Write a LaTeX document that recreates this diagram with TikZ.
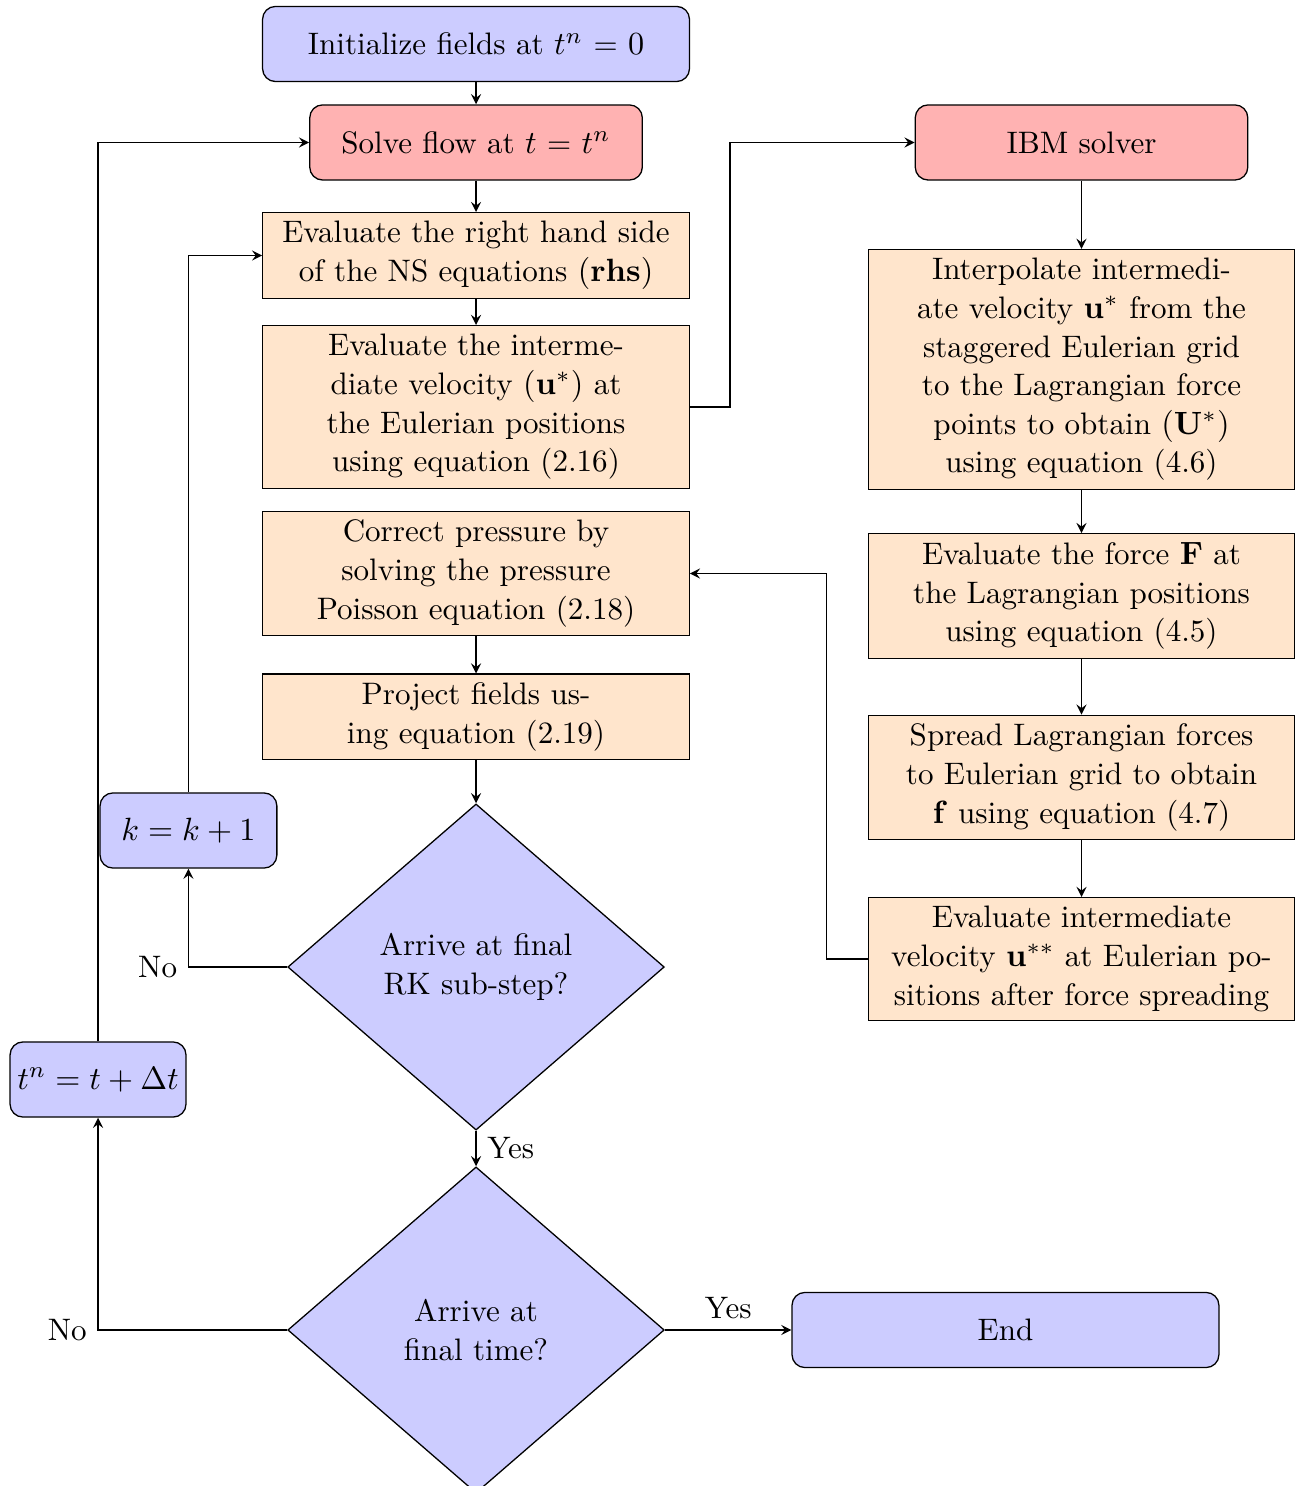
\documentclass[tikz,border=0pt]{standalone}
\usetikzlibrary{shapes.geometric,arrows}

\tikzset{
  startstop/.style={rectangle, rounded corners, minimum height=0.82cm, draw=black, fill=blue!20},
  solver/.style={rectangle, rounded corners, minimum width=3.63cm, minimum height=0.82cm, draw=black, fill=red!30},
  process/.style={rectangle, text width=4.42cm, inner ysep=2.7pt, align=center, draw=black, fill=orange!20},
  decision/.style={diamond, minimum width=4.11cm, minimum height=3.56cm, align=center, draw=black, fill=blue!20},
  arrow/.style={thin,->,>=stealth}
}

\begin{document}
\begin{tikzpicture}[font=\fontsize{9.65pt}{12pt}\selectfont]
      \useasboundingbox (0,0) rectangle (14.2,-16.22);
      % main loop
      \node[startstop, minimum width=4.66cm] (init) at (5.196,-0.480) {Initialize fields at $t^n$ = $0$};
      \node[solver] (solve) at (5.196,-1.555) {Solve flow at $t$ = $t^n$};
      \node[process] (rhs) at (5.196,-2.789) {Evaluate the right hand side\\of the NS equations $(\mathbf{rhs})$};
      \node[process] (ustar) at (5.196,-4.442) {Evaluate the interme-\\diate velocity $(\mathbf{u}^*)$ at\\the Eulerian positions\\using equation (2.16)};
      \node[process] (press) at (5.196,-6.260) {Correct pressure by\\solving the pressure\\Poisson equation (2.18)};
      \node[process] (proj) at (5.196,-7.826) {Project fields us-\\ing equation (2.19)};
      \node[decision] (rkdec) at (5.196,-10.555) {Arrive at final\\RK sub-step?};
      \node[decision] (tdec) at (5.196,-14.517) {Arrive at\\final time?};
      \node[startstop, minimum width=1.93cm] (kinc) at (2.057,-9.065) {$k = k + 1$};
      \node[startstop, minimum width=1.92cm, inner xsep=2pt] (tinc) at (1.070,-11.783) {$t^n = t + \Delta t$};
      \node[startstop, minimum width=4.66cm] (finish) at (10.975,-14.517) {End};
      % IBM part
      \node[solver] (ibm) at (11.805,-1.555) {IBM solver};
      \node[process] (interp) at (11.805,-4.033) {Interpolate intermedi-\\ate velocity $\mathbf{u}^*$ from the\\staggered Eulerian grid\\to the Lagrangian force\\points to obtain $(\mathbf{U}^*)$\\using equation (4.6)};
      \node[process] (force) at (11.805,-6.505) {Evaluate the force $\mathbf{F}$ at\\the Lagrangian positions\\using equation (4.5)};
      \node[process] (spread) at (11.805,-8.486) {Spread Lagrangian forces\\to Eulerian grid to obtain\\$\mathbf{f}$ using equation (4.7)};
      \node[process] (ustarstar) at (11.805,-10.467) {Evaluate intermediate\\velocity $\mathbf{u}^{**}$ at Eulerian po-\\sitions after force spreading};

      \begin{scope}[arrow]
        \draw (init) -- (solve);
        \draw (solve) -- (rhs);
        \draw (rhs) -- (ustar);
        \draw (ustar.east) -- ++(0.437,0) |- (ibm.west);
        \draw (ibm) -- (interp);
        \draw (interp) -- (force);
        \draw (force) -- (spread);
        \draw (spread) -- (ustarstar);
        \draw (ustarstar.west) -- ++(-0.45,0) |- (press.east);
        \draw (press) -- (proj);
        \draw (proj) -- (rkdec);
        \draw (rkdec.west) -| node[pos=0.5, left] {No} (kinc.south);
        \draw (kinc.north) |- (rhs.west);
        \draw (rkdec.south) -- node[right] {Yes} (tdec.north);
        \draw (tdec.west) -| node[pos=0.5, left] {No} (tinc.south);
        \draw (tinc.north) |- (solve.west);
        \draw (tdec.east) -- node[above] {Yes} (finish.west);
      \end{scope}
    \end{tikzpicture}
\end{document}
